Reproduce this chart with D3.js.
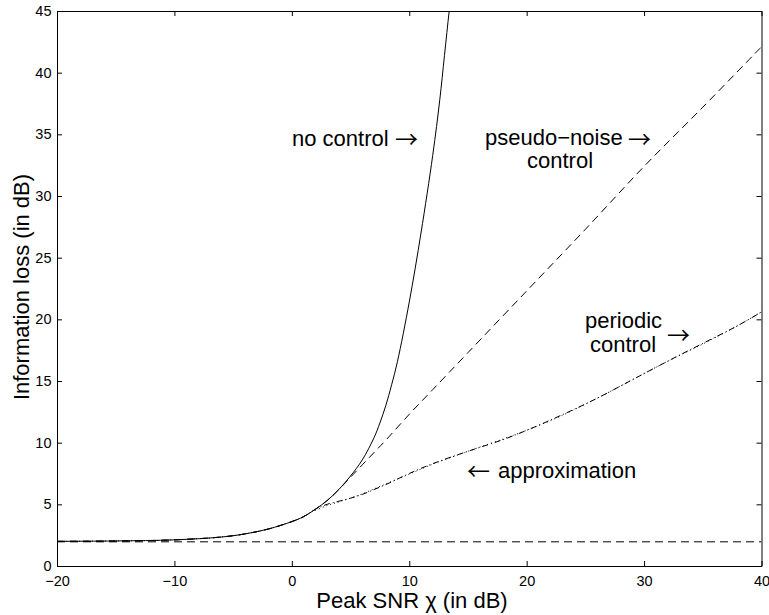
<!DOCTYPE html>
<html>
<head>
<meta charset="utf-8">
<script src="https://cdn.jsdelivr.net/npm/d3@7"></script>
<style>
  body { margin: 0; background: #fff; }
  text { font-family: "Liberation Sans", Arial, Helvetica, sans-serif; fill: #000; }
</style>
</head>
<body>
<div id="chart"></div>
<script>
// values (peak SNR in dB, information loss in dB)
const snrNoControl  = [-20, -15, -10, -6, -4, -2, 0, 1, 2, 3, 4, 5, 6, 7, 7.5, 8, 8.5, 9, 10, 11, 12, 12.6, 13, 13.4, 13.7];
const lossNoControl = [2.0, 2.03, 2.12, 2.35, 2.6, 3.0, 3.6, 4.0, 4.6, 5.3, 6.2, 7.3, 8.6, 10.4, 11.6, 13.0, 14.7, 16.6, 21.4, 27.0, 33.3, 37.8, 41.4, 45.0, 47.5];

const snrPseudo  = [-20, -15, -10, -6, -4, -2, 0, 1, 2, 3, 4, 5, 6, 7, 8, 10, 12, 15, 20, 25, 30, 35, 40];
const lossPseudo = [2.0, 2.03, 2.12, 2.35, 2.6, 3.0, 3.6, 4.0, 4.6, 5.3, 6.2, 7.2, 8.2, 9.2, 10.2, 12.3, 14.3, 17.3, 22.3, 27.3, 32.4, 37.2, 42.1];

const snrPeriodic  = [-20, -15, -10, -6, -4, -2, 0, 1, 2, 3, 4, 5, 6, 7, 8, 9, 10, 12, 15, 18, 20, 23, 26, 29, 32, 35, 38, 40];
const lossPeriodic = [2.0, 2.03, 2.12, 2.35, 2.6, 3.0, 3.6, 4.0, 4.6, 5.0, 5.25, 5.5, 5.8, 6.2, 6.6, 7.05, 7.5, 8.3, 9.3, 10.25, 11.0, 12.25, 13.6, 15.1, 16.6, 18.05, 19.5, 20.6];

const snrApprox  = [2, 3, 4, 5, 6, 7, 8, 9, 10, 12, 15, 18, 20, 23, 26, 29, 32, 35, 38, 40];
const lossApprox = [4.5, 4.9, 5.2, 5.5, 5.85, 6.25, 6.65, 7.05, 7.45, 8.25, 9.3, 10.3, 11.0, 12.2, 13.6, 15.1, 16.6, 18.0, 19.5, 20.6];

const snrFloor  = [-20, 40];
const lossFloor = [1.96, 1.96];

const xTicks = [-20, -10, 0, 10, 20, 30, 40];
const yTicks = [0, 5, 10, 15, 20, 25, 30, 35, 40, 45];

// set the dimensions of the page and the plot box
const width = 769;
const height = 615;
const box = {left: 57, right: 761.5, top: 11, bottom: 566};

const svg = d3
  .select("#chart")
  .append("svg")
  .attr("width", width)
  .attr("height", height);

const x = d3.scaleLinear().domain([-20, 40]).range([box.left, box.right]);
const y = d3.scaleLinear().domain([0, 45]).range([box.bottom, box.top]);

const fmt = d => (d < 0 ? "\u2212" + Math.abs(d) : String(d));

// axes, ticks pointing into the box like the matlab figure
svg.append("g")
  .attr("transform", `translate(0,${box.bottom})`)
  .call(d3.axisBottom(x).tickValues(xTicks).tickFormat(fmt).tickSizeInner(-5).tickSizeOuter(0).tickPadding(10));
svg.append("g")
  .attr("transform", `translate(${box.left},0)`)
  .call(d3.axisLeft(y).tickValues(yTicks).tickFormat(fmt).tickSizeInner(-5).tickSizeOuter(0).tickPadding(5.5));
svg.append("g")
  .attr("transform", `translate(0,${box.top})`)
  .call(d3.axisTop(x).tickValues(xTicks).tickFormat("").tickSizeInner(-5).tickSizeOuter(0));
svg.append("g")
  .attr("transform", `translate(${box.right},0)`)
  .call(d3.axisRight(y).tickValues(yTicks).tickFormat("").tickSizeInner(-5).tickSizeOuter(0));

svg.selectAll(".tick text")
  .style("font-size", "14.5px")
  .style("font-family", "'Liberation Sans', Arial, sans-serif");
svg.selectAll(".domain, .tick line").attr("stroke", "#000").attr("stroke-width", 1);

// clip the curves to the box
svg.append("clipPath")
  .attr("id", "plotclip")
  .append("rect")
  .attr("x", box.left)
  .attr("y", box.top)
  .attr("width", box.right - box.left)
  .attr("height", box.bottom - box.top);

const curves = svg.append("g").attr("clip-path", "url(#plotclip)");

function addCurve(xs, ys, dash){
  const pts = xs.map((v, i) => [v, ys[i]]);
  curves
    .append("path")
    .datum(pts)
    .attr("fill", "none")
    .attr("stroke", "#000")
    .attr("stroke-width", 1)
    .attr("stroke-dasharray", dash)
    .attr("d", d3.line()
      .curve(d3.curveCatmullRom)
      .x(d => x(d[0]))
      .y(d => y(d[1])));
}

addCurve(snrFloor, lossFloor, "8,5");
addCurve(snrPseudo, lossPseudo, "8,5");
addCurve(snrApprox, lossApprox, "1,3");
addCurve(snrPeriodic, lossPeriodic, "6,3,1,3");
addCurve(snrNoControl, lossNoControl, null);

// annotations
const notes = [
  {t: "no control", x: 292, y: 146},
  {t: "pseudo\u2212noise", x: 485, y: 145},
  {t: "control", x: 527, y: 168},
  {t: "periodic", x: 585, y: 328},
  {t: "control", x: 590, y: 352},
  {t: "approximation", x: 498, y: 478}
];
svg.selectAll(".note")
  .data(notes)
  .enter()
  .append("text")
  .attr("class", "note")
  .attr("x", d => d.x)
  .attr("y", d => d.y)
  .style("font-size", "22px")
  .text(d => d.t);

// thin open-headed arrows, like the tex \rightarrow in the figure
const arrows = [
  {t: "\u2192", x: 395, y: 148},
  {t: "\u2192", x: 628, y: 148},
  {t: "\u2192", x: 667, y: 344},
  {t: "\u2190", x: 467, y: 480}
];
svg.selectAll(".arrow")
  .data(arrows)
  .enter()
  .append("text")
  .attr("class", "arrow")
  .attr("x", d => d.x)
  .attr("y", d => d.y)
  .style("font-family", "'Noto Sans CJK JP', 'DejaVu Sans', sans-serif")
  .style("font-size", "23px")
  .text(d => d.t);

// axis titles
svg.append("text")
  .attr("x", 412)
  .attr("y", 608)
  .attr("text-anchor", "middle")
  .style("font-size", "22px")
  .text("Peak SNR \u03c7 (in dB)");

svg.append("text")
  .attr("transform", "translate(28.5,287) rotate(-90)")
  .attr("text-anchor", "middle")
  .style("font-size", "22px")
  .text("Information loss (in dB)");
</script>
</body>
</html>
